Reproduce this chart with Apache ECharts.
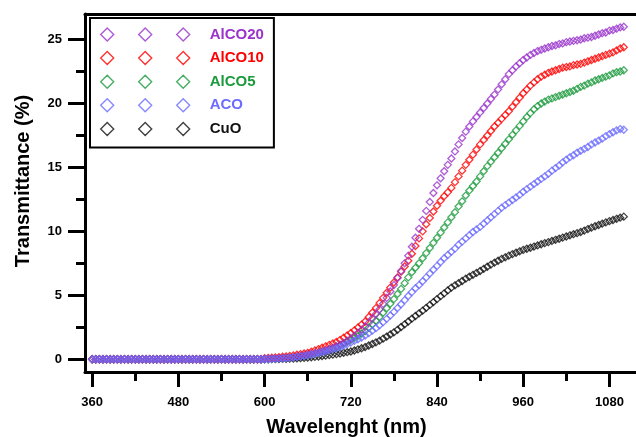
<!DOCTYPE html>
<html>
<head>
<meta charset="utf-8">
<script src="https://cdn.jsdelivr.net/npm/echarts@6/dist/echarts.min.js"></script>
<style>html,body{margin:0;padding:0;background:#fff}#c{width:636px;height:437px}</style>
</head>
<body>
<div id="c"></div>
<script>
const wavelength = [
360,365,370,375,380,385,390,395,400,405,410,415,
420,425,430,435,440,445,450,455,460,465,470,475,
480,485,490,495,500,505,510,515,520,525,530,535,
540,545,550,555,560,565,570,575,580,585,590,595,
600,605,610,615,620,625,630,635,640,645,650,655,
660,665,670,675,680,685,690,695,700,705,710,715,
720,725,730,735,740,745,750,755,760,765,770,775,
780,785,790,795,800,805,810,815,820,825,830,835,
840,845,850,855,860,865,870,875,880,885,890,895,
900,905,910,915,920,925,930,935,940,945,950,955,
960,965,970,975,980,985,990,995,1000,1005,1010,1015,
1020,1025,1030,1035,1040,1045,1050,1055,1060,1065,1070,1075,
1080,1085,1090,1095,1100];

const seriesNames = ['AlCO20', 'AlCO10', 'AlCO5', 'ACO', 'CuO'];

const alco20 = [
0,0,0,0,0,0,0,0,0,0,0,0,
0,0,0,0,0,0,0,0,0,0,0,0,
0,0,0,0,0,0,0,0,0,0,0,0,
0,0,0,0,0,0,0,0,0,0,0,0,
0.02,0.03,0.04,0.05,0.06,0.08,0.1,0.12,0.15,0.19,
0.24,0.29,0.35,0.41,0.47,0.53,0.6,0.69,0.79,0.89,
1.0,1.13,1.27,1.43,1.6,1.82,2.05,2.29,2.55,2.86,
3.19,3.53,3.9,4.33,4.8,5.3,5.8,6.35,6.9,7.5,
8.1,8.8,9.5,10.2,10.9,11.6,12.3,13.0,13.6,14.15,
14.7,15.2,15.7,16.25,16.8,17.3,17.8,18.2,18.6,18.95,
19.3,19.65,20.0,20.35,20.7,21.1,21.5,21.9,22.3,22.6,
22.9,23.15,23.4,23.6,23.8,23.95,24.1,24.2,24.3,24.4,
24.5,24.55,24.65,24.7,24.8,24.85,24.9,24.95,25.0,25.1,
25.15,25.2,25.3,25.4,25.5,25.55,25.7,25.75,25.85,25.95,
26.0];

const alco10 = [
0,0,0,0,0,0,0,0,0,0,0,0,
0,0,0,0,0,0,0,0,0,0,0,0,
0,0,0,0,0,0,0,0,0,0,0,0,
0,0,0,0,0,0,0,0,0,0,0,0,
0.08,0.1,0.12,0.14,0.16,0.19,0.22,0.26,0.3,0.35,
0.4,0.45,0.5,0.59,0.69,0.79,0.9,1.01,1.12,1.23,
1.35,1.51,1.68,1.86,2.05,2.26,2.48,2.71,2.95,3.3,
3.65,4.0,4.4,4.8,5.2,5.6,6.0,6.4,6.85,7.25,
7.7,8.25,8.85,9.45,10.0,10.55,11.05,11.55,12.0,12.4,
12.75,13.05,13.4,13.85,14.3,14.75,15.2,15.6,16.0,16.4,
16.8,17.15,17.5,17.85,18.2,18.5,18.8,19.1,19.4,19.75,
20.1,20.45,20.8,21.1,21.4,21.65,21.9,22.1,22.25,22.4,
22.5,22.6,22.7,22.8,22.85,22.9,23.0,23.05,23.1,23.2,
23.3,23.4,23.5,23.6,23.7,23.8,23.9,24.0,24.15,24.3,
24.4];

const alco5 = [
0,0,0,0,0,0,0,0,0,0,0,0,
0,0,0,0,0,0,0,0,0,0,0,0,
0,0,0,0,0,0,0,0,0,0,0,0,
0,0,0,0,0,0,0,0,0,0,0,0,
0.02,0.02,0.03,0.04,0.05,0.07,0.09,0.12,0.15,0.18,
0.22,0.26,0.3,0.37,0.44,0.52,0.6,0.68,0.77,0.86,
0.95,1.07,1.2,1.35,1.5,1.66,1.83,2.01,2.2,2.46,
2.73,3.01,3.3,3.64,3.98,4.34,4.7,5.1,5.5,5.95,
6.4,6.8,7.15,7.5,7.9,8.3,8.7,9.1,9.5,9.9,
10.3,10.7,11.1,11.5,11.95,12.35,12.8,13.2,13.55,13.9,
14.3,14.7,15.1,15.45,15.8,16.15,16.5,16.85,17.2,17.55,
17.9,18.25,18.6,18.95,19.25,19.55,19.8,20.0,20.15,20.3,
20.4,20.5,20.6,20.7,20.8,20.9,21.0,21.15,21.3,21.4,
21.55,21.65,21.8,21.9,22.0,22.1,22.2,22.35,22.45,22.5,
22.6];

const aco = [
0,0,0,0,0,0,0,0,0,0,0,0,
0,0,0,0,0,0,0,0,0,0,0,0,
0,0,0,0,0,0,0,0,0,0,0,0,
0,0,0,0,0,0,0,0,0,0,0,0,
0.02,0.02,0.03,0.04,0.05,0.07,0.09,0.12,0.15,0.18,
0.22,0.26,0.3,0.36,0.42,0.48,0.55,0.62,0.69,0.77,
0.85,0.95,1.06,1.18,1.3,1.43,1.56,1.7,1.85,2.04,
2.23,2.43,2.65,2.9,3.16,3.42,3.7,4.0,4.3,4.62,
4.95,5.25,5.55,5.8,6.1,6.4,6.7,7.0,7.3,7.6,
7.9,8.15,8.4,8.65,8.95,9.2,9.45,9.7,9.95,10.15,
10.35,10.6,10.85,11.1,11.35,11.6,11.85,12.05,12.25,12.45,
12.65,12.85,13.1,13.3,13.5,13.7,13.9,14.1,14.3,14.5,
14.75,14.95,15.15,15.4,15.6,15.8,15.95,16.15,16.3,16.45,
16.6,16.8,16.95,17.1,17.25,17.45,17.6,17.75,17.9,18.0,
17.95];

const cuo = [
0,0,0,0,0,0,0,0,0,0,0,0,
0,0,0,0,0,0,0,0,0,0,0,0,
0,0,0,0,0,0,0,0,0,0,0,0,
0,0,0,0,0,0,0,0,0,0,0,0,
0,0,0.01,0.01,0.02,0.03,0.03,0.04,0.05,0.06,
0.08,0.1,0.12,0.15,0.18,0.21,0.25,0.28,0.32,0.36,
0.4,0.45,0.5,0.55,0.6,0.68,0.77,0.86,0.95,1.07,
1.19,1.32,1.45,1.61,1.77,1.93,2.1,2.3,2.52,2.73,
2.95,3.17,3.38,3.59,3.8,4.02,4.25,4.47,4.7,4.93,
5.15,5.38,5.6,5.78,5.95,6.12,6.3,6.45,6.6,6.75,
6.9,7.07,7.23,7.4,7.55,7.7,7.85,7.97,8.1,8.22,
8.33,8.44,8.55,8.64,8.72,8.81,8.9,8.99,9.08,9.16,
9.25,9.34,9.42,9.51,9.6,9.69,9.78,9.86,9.95,10.06,
10.18,10.29,10.4,10.5,10.6,10.7,10.8,10.89,10.98,11.07,
11.15];

const xMajorTicks = [360, 480, 600, 720, 840, 960, 1080];
const xMinorTicks = [420, 540, 660, 780, 900, 1020];
const yMajorTicks = [0, 5, 10, 15, 20, 25];
const yMinorTicks = [2.5, 7.5, 12.5, 17.5, 22.5];

const colors = {
  AlCO20: '#9933cc',
  AlCO10: '#ff0000',
  AlCO5: '#1a9a3c',
  ACO: '#6c6cff',
  CuO: '#111111'
};
const values = { AlCO20: alco20, AlCO10: alco10, AlCO5: alco5, ACO: aco, CuO: cuo };
const drawOrder = ['CuO', 'AlCO5', 'AlCO10', 'AlCO20', 'ACO'];

const FONT = 'Arial, "Liberation Sans", sans-serif';
const legendIcon = 'path://M6.5,0L13,6.5L6.5,13L0,6.5Z M44.5,0L51,6.5L44.5,13L38,6.5Z M82.5,0L89,6.5L82.5,13L76,6.5Z';

const chart = echarts.init(document.getElementById('c'), null, { renderer: 'canvas' });

const xBase = { type: 'value', min: 350, max: 1117, splitLine: { show: false } };
const yBase = { type: 'value', min: -1, max: 27, splitLine: { show: false } };
const plainNum = v => String(v);

chart.setOption({
  animation: false,
  backgroundColor: '#fff',
  grid: { left: 85, top: 14, right: 0, bottom: 65, containLabel: false, outerBoundsMode: 'none' },
  xAxis: [
    Object.assign({}, xBase, {
      position: 'bottom',
      axisLine: { show: true, onZero: false, lineStyle: { color: '#000', width: 3 } },
      axisTick: { show: true, customValues: xMajorTicks, length: 15, lineStyle: { color: '#000', width: 3 } },
      axisLabel: { show: true, customValues: xMajorTicks, formatter: plainNum, margin: 24, color: '#000', fontFamily: FONT, fontWeight: 'bold', fontSize: 13 },
      name: 'Wavelenght (nm)', nameLocation: 'middle', nameGap: 45,
      nameTextStyle: { color: '#000', fontFamily: FONT, fontWeight: 'bold', fontSize: 20, padding: [0, 28, 0, 0] }
    }),
    Object.assign({}, xBase, {
      position: 'bottom',
      axisLine: { show: false, onZero: false },
      axisTick: { show: true, customValues: xMinorTicks, length: 9, lineStyle: { color: '#000', width: 3 } },
      axisLabel: { show: false }
    }),
    Object.assign({}, xBase, {
      position: 'top',
      axisLine: { show: true, onZero: false, lineStyle: { color: '#000', width: 3 } },
      axisTick: { show: false },
      axisLabel: { show: false }
    })
  ],
  yAxis: [
    Object.assign({}, yBase, {
      position: 'left',
      axisLine: { show: true, onZero: false, lineStyle: { color: '#000', width: 3 } },
      axisTick: { show: true, customValues: yMajorTicks, length: 17, lineStyle: { color: '#000', width: 3 } },
      axisLabel: { show: true, customValues: yMajorTicks, formatter: plainNum, margin: 23, color: '#000', fontFamily: FONT, fontWeight: 'bold', fontSize: 13 },
      name: 'Transmittance (%)', nameLocation: 'middle', nameGap: 52, nameRotate: 90,
      nameTextStyle: { color: '#000', fontFamily: FONT, fontWeight: 'bold', fontSize: 20, padding: [0, 0, 0, 24] }
    }),
    Object.assign({}, yBase, {
      position: 'left',
      axisLine: { show: false, onZero: false },
      axisTick: { show: true, customValues: yMinorTicks, length: 9, lineStyle: { color: '#000', width: 3 } },
      axisLabel: { show: false }
    })
  ],
  legend: {
    orient: 'vertical',
    left: 90, top: 18,
    padding: [9, 10, 11, 10],
    borderColor: '#000', borderWidth: 2,
    backgroundColor: '#fff',
    itemWidth: 89, itemHeight: 13, itemGap: 8.6,
    selectedMode: false,
    data: seriesNames.map(n => ({
      name: n,
      icon: legendIcon,
      itemStyle: { color: 'rgba(0,0,0,0)', borderColor: colors[n], borderWidth: 1.4 },
      textStyle: { color: colors[n], fontFamily: FONT, fontWeight: 'bold', fontSize: 15, lineHeight: 13, padding: [0, 0, 0, 15] }
    }))
  },
  series: drawOrder.map(n => ({
    name: n,
    type: 'scatter',
    xAxisIndex: 0,
    yAxisIndex: 0,
    symbol: 'diamond',
    symbolSize: 7,
    itemStyle: { color: 'rgba(0,0,0,0)', borderColor: colors[n], borderWidth: 1.3 },
    emphasis: { disabled: true },
    data: wavelength.map((w, i) => [w, values[n][i]])
  }))
});
</script>
</body>
</html>
